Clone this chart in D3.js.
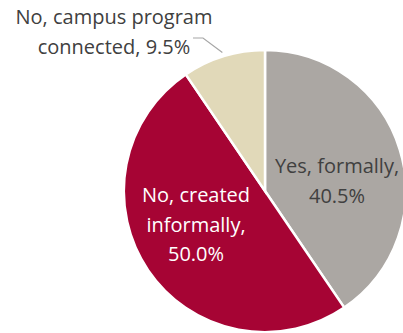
<!DOCTYPE html>
<html>
<head>
<meta charset="utf-8">
<script src="https://cdn.jsdelivr.net/npm/d3@7"></script>
<style>
  html, body { margin: 0; padding: 0; background: #fff; }
  svg { display: block; }
  text { font-family: "Open Sans", "Noto Sans", sans-serif; font-size: 20px; }
</style>
</head>
<body>
<svg id="chart" width="403" height="333"></svg>
<script>
// Slices in clockwise order from 12 o'clock
const categories = ["Yes, formally", "No, created informally", "No, campus program connected"];
const shares = [40.5, 50.0, 9.5];
const colors = ["#ABA7A3", "#A60434", "#E1D9B9"];

// Label lines per slice (value appended from the data)
const labelLines = [
  ["Yes, formally,", "{v}"],
  ["No, created", "informally,", "{v}"],
  ["No, campus program", "connected, {v}"]
];
const labelColors = ["#404040", "#ffffff", "#404040"];

const svg = d3.select("#chart");
const cx = 265, cy = 191, radius = 141;

const pie = d3.pie().sort(null).value(d => d.value).startAngle(0).endAngle(2 * Math.PI);
const arcs = pie(categories.map((c, i) => ({ name: c, value: shares[i], i })));
const arc = d3.arc().innerRadius(0).outerRadius(radius);

const g = svg.append("g").attr("transform", `translate(${cx},${cy})`);

g.selectAll("path.slice")
  .data(arcs)
  .join("path")
  .attr("class", "slice")
  .attr("d", arc)
  .attr("fill", d => colors[d.data.i])
  .attr("stroke", "#fff")
  .attr("stroke-width", 2.5)
  .attr("stroke-linejoin", "miter");

const fmt = v => v.toFixed(1) + "%";

// Label anchor (centre of first baseline) relative to pie centre
const labelAnchors = [
  [72, -18],
  [-69, 11],
  [-151, -167]
];
const lineStep = 29.5;

arcs.forEach((d, k) => {
  const i = d.data.i;
  const t = g.append("text")
    .attr("text-anchor", "middle")
    .attr("fill", labelColors[i]);
  labelLines[i].forEach((ln, j) => {
    t.append("tspan")
      .attr("x", labelAnchors[i][0])
      .attr("y", labelAnchors[i][1] + j * lineStep)
      .text(ln.replace("{v}", fmt(d.data.value)));
  });
});

// Leader line for the small outside label, ending at the slice edge
const small = arcs[2];
const midA = (small.startAngle + small.endAngle) / 2;
const edge = [Math.sin(midA) * (radius + 4), -Math.cos(midA) * (radius + 4)];
g.append("polyline")
  .attr("points", [[-72, -153], [-62, -153], edge].map(p => p.join(",")).join(" "))
  .attr("fill", "none")
  .attr("stroke", "#A6A6A6")
  .attr("stroke-width", 1.2);
</script>
</body>
</html>
